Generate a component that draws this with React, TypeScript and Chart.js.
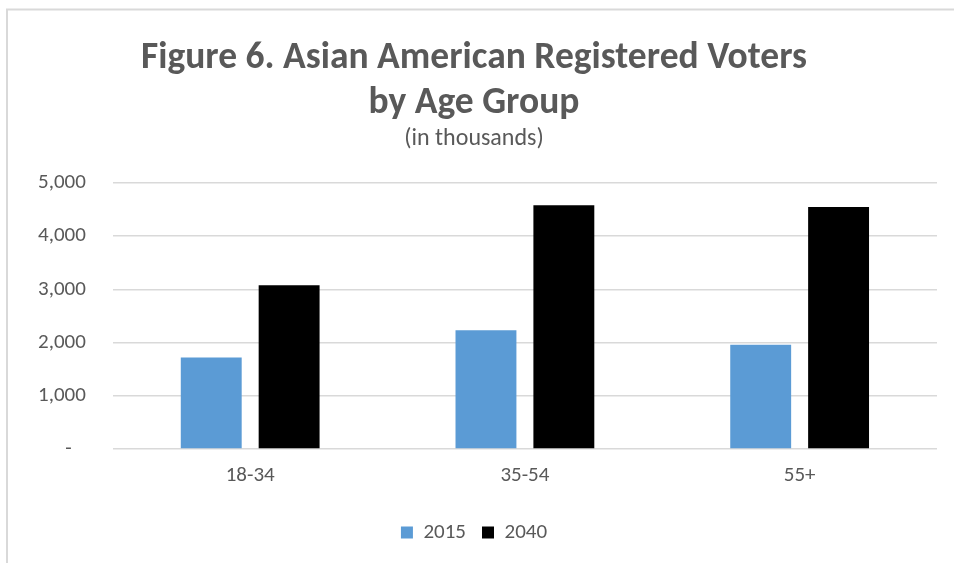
import React, { useEffect, useRef } from "react";
import { Chart, registerables } from "chart.js";

Chart.register(...registerables);

const categories = ["18-34", "35-54", "55+"];
const seriesNames = ["2015", "2040"];
const values2015 = [1720, 2230, 1960];
const values2040 = [3080, 4580, 4550];
const yTickValues = [0, 1000, 2000, 3000, 4000, 5000];
const titleLines = ["Figure 6. Asian American Registered Voters", "by Age Group"];
const subtitleText = "(in thousands)";

const FONT = "Carlito, Lato, 'Open Sans', sans-serif";
const TEXT = "#595959";

const framePlugin = {
  id: "frame",
  beforeDraw(chart: any) {
    const ctx = chart.ctx;
    ctx.save();
    ctx.fillStyle = "#ffffff";
    ctx.fillRect(0, 0, chart.width, chart.height);
    ctx.strokeStyle = "#d9d9d9";
    ctx.lineWidth = 2;
    ctx.beginPath();
    ctx.moveTo(7, chart.height);
    ctx.lineTo(7, 9.5);
    ctx.lineTo(chart.width, 9.5);
    ctx.stroke();
    ctx.restore();
  },
};

export default function App() {
  const ref = useRef<HTMLCanvasElement | null>(null);
  useEffect(() => {
    if (!ref.current) return;
    const chart = new Chart(ref.current, {
      type: "bar",
      data: {
        labels: categories,
        datasets: [
          {
            label: seriesNames[0],
            data: values2015,
            backgroundColor: "#5b9bd5",
            categoryPercentage: 0.567,
            barPercentage: 0.782,
          },
          {
            label: seriesNames[1],
            data: values2040,
            backgroundColor: "#000000",
            categoryPercentage: 0.567,
            barPercentage: 0.782,
          },
        ],
      },
      options: {
        responsive: false,
        animation: false,
        layout: { padding: { top: 36, left: 11, right: 17, bottom: 10 } },
        plugins: {
          title: {
            display: true,
            text: titleLines,
            color: TEXT,
            font: { family: FONT, size: 37.5, weight: "bold", lineHeight: 1.2 },
            padding: { top: 0, bottom: 1 },
          },
          subtitle: {
            display: true,
            text: subtitleText,
            color: TEXT,
            font: { family: FONT, size: 24, lineHeight: 1 },
            padding: { top: 0, bottom: 32 },
          },
          legend: {
            position: "bottom",
            labels: {
              color: TEXT,
              font: { family: FONT, size: 21 },
              boxWidth: 12,
              boxHeight: 12,
              padding: 16,
            },
          },
          tooltip: { enabled: false },
        },
        scales: {
          x: {
            grid: { display: false },
            border: { display: false },
            ticks: { color: TEXT, font: { family: FONT, size: 21 }, padding: 6 },
            afterFit(scale: any) {
              scale.height = 57;
            },
          },
          y: {
            min: 0,
            max: 5000,
            afterBuildTicks(scale: any) {
              scale.ticks = yTickValues.map((v) => ({ value: v }));
            },
            grid: { color: "#d9d9d9", lineWidth: 1.5, drawTicks: false },
            border: { display: false },
            ticks: {
              color: TEXT,
              font: { family: FONT, size: 21 },
              padding: 27,
              callback: (v: any) => (Number(v) === 0 ? "-   " : Number(v).toLocaleString("en-US")),
            },
          },
        },
      },
      plugins: [framePlugin],
    });
    return () => chart.destroy();
  }, []);
  return (
    <div style={{ position: "fixed", left: 0, top: 0, width: 954, height: 563, background: "#fff" }}>
      <canvas ref={ref} width={954} height={563} style={{ display: "block", width: 954, height: 563 }} />
    </div>
  );
}
